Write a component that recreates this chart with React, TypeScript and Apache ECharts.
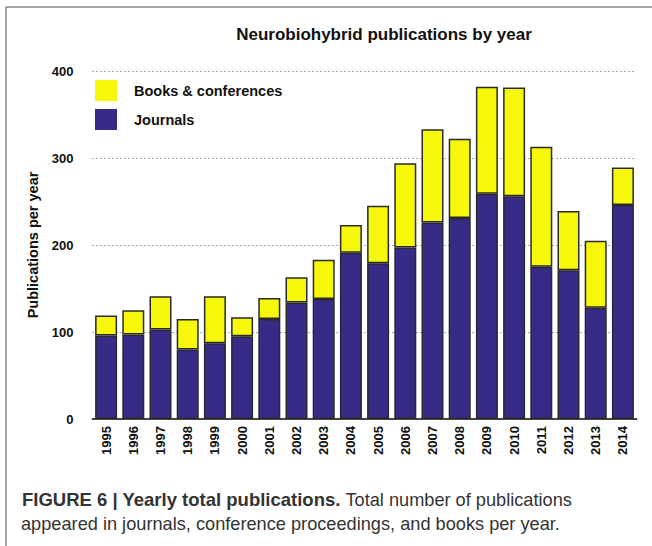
import React, { useEffect, useRef } from "react";
import * as echarts from "echarts";

const years = ["1995","1996","1997","1998","1999","2000","2001","2002","2003","2004","2005","2006","2007","2008","2009","2010","2011","2012","2013","2014"];
const journals = [96, 97, 103, 80, 87, 95, 115, 134, 138, 191, 179, 197, 226, 231, 259, 256, 175, 171, 128, 246];
const booksConf = [23, 28, 38, 35, 54, 22, 24, 29, 45, 32, 66, 97, 107, 91, 123, 125, 138, 68, 77, 43];
const yTicks = [0, 100, 200, 300, 400];

const FONT = "Liberation Sans, Arial, Helvetica, sans-serif";

export default function App() {
  const ref = useRef<HTMLDivElement>(null);
  useEffect(() => {
    if (!ref.current) return;
    const chart = echarts.init(ref.current, undefined, { renderer: "svg" });
    chart.setOption({
      animation: false,
      backgroundColor: "#ffffff",
      title: {
        text: "Neurobiohybrid publications by year",
        left: 379,
        top: 21,
        textAlign: "center",
        textStyle: { fontFamily: FONT, fontWeight: "bold", fontSize: 17, color: "#111" },
      },
      legend: {
        data: ["Books & conferences", "Journals"],
        orient: "vertical",
        left: 95,
        top: 80,
        padding: 0,
        itemWidth: 22,
        itemHeight: 21,
        itemGap: 8,
        icon: "rect",
        textStyle: { fontFamily: FONT, fontWeight: "bold", fontSize: 14.5, color: "#111", padding: [0, 0, 0, 12] },
        itemStyle: { borderWidth: 0 },
      },
      grid: { left: 92.5, right: 15.5, top: 71, bottom: 127 },
      xAxis: {
        type: "category",
        data: years,
        axisLine: { show: true, lineStyle: { color: "#444", width: 2 } },
        axisTick: { show: false },
        axisLabel: {
          rotate: 90,
          margin: 7,
          fontFamily: FONT,
          fontWeight: "bold",
          fontSize: 13,
          color: "#111",
        },
      },
      yAxis: {
        type: "value",
        min: 0,
        max: 400,
        interval: 100,
        name: "Publications per year",
        nameLocation: "middle",
        nameGap: 48,
        nameTextStyle: { fontFamily: FONT, fontWeight: "bold", fontSize: 14.5, color: "#111" },
        axisLine: { show: false },
        axisTick: { show: false },
        axisLabel: {
          margin: 19,
          fontFamily: FONT,
          fontWeight: "bold",
          fontSize: 13,
          color: "#111",
          formatter: (v: number) => (yTicks.includes(v) ? String(v) : ""),
        },
        splitLine: { show: true, lineStyle: { color: "#555", width: 1, type: [1, 3] } },
      },
      series: [
        {
          name: "Journals",
          type: "bar",
          stack: "total",
          data: journals,
          barWidth: 22,
          itemStyle: { color: "#362b86", borderColor: "#2a2a2a", borderWidth: 1.5 },
        },
        {
          name: "Books & conferences",
          type: "bar",
          stack: "total",
          data: booksConf,
          barWidth: 22,
          itemStyle: { color: "#f7f70b", borderColor: "#2a2a2a", borderWidth: 1.5 },
        },
      ],
      graphic: [
        { type: "line", shape: { x1: 6, y1: 7, x2: 652, y2: 7 }, style: { stroke: "#888", lineWidth: 1.5 } },
        { type: "line", shape: { x1: 6, y1: 7, x2: 6, y2: 546 }, style: { stroke: "#888", lineWidth: 1.5 } },
        {
          type: "text",
          left: 22,
          top: 490,
          style: {
            text: "{b|FIGURE 6 | Yearly total publications.}{n| Total number of publications}",
            rich: {
              b: { fontFamily: FONT, fontWeight: "bold", fontSize: 18.5, fill: "#333" },
              n: { fontFamily: FONT, fontWeight: "normal", fontSize: 18.2, fill: "#333" },
            },
          },
        },
        {
          type: "text",
          left: 21,
          top: 515,
          style: {
            text: "appeared in journals, conference proceedings, and books per year.",
            fontFamily: FONT,
            fontSize: 18.2,
            fill: "#333",
          },
        },
      ],
    });
    return () => chart.dispose();
  }, []);
  return (
    <div
      ref={ref}
      style={{ position: "fixed", left: 0, top: 0, width: 652, height: 546 }}
    />
  );
}
